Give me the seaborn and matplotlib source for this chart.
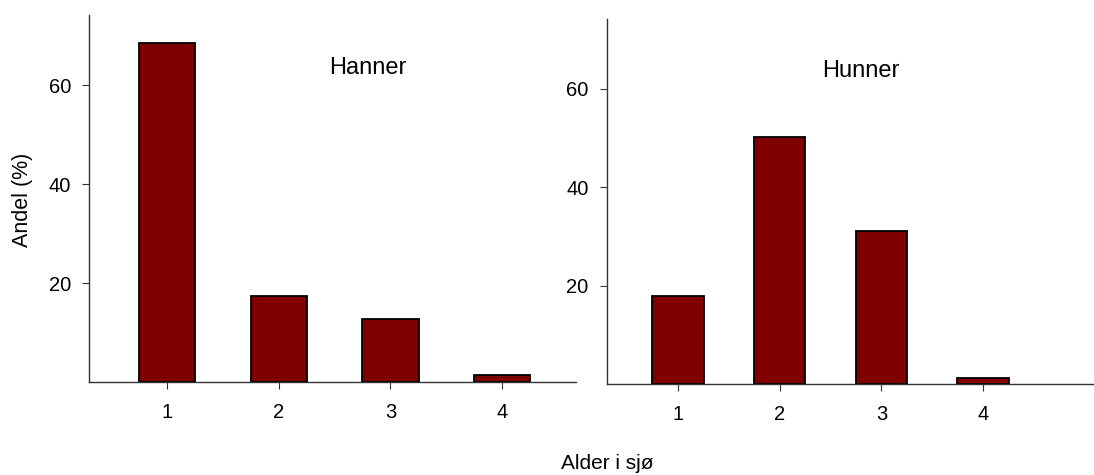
import matplotlib
matplotlib.use("Agg")
import matplotlib.pyplot as plt
import pandas as pd
import seaborn as sns

# data
ages = ["1", "2", "3", "4"]
hanner = [68.5, 17.3, 12.8, 1.3]
hunner = [17.9, 50.1, 31.0, 1.2]

sns.set_style("white")
plt.rcParams["font.family"] = ["Liberation Sans", "DejaVu Sans"]
plt.rcParams["text.color"] = "black"
plt.rcParams["xtick.color"] = "black"
plt.rcParams["ytick.color"] = "black"

fig = plt.figure(figsize=(10.94, 4.75), dpi=100)
ax1 = fig.add_axes([0.0814, 0.196, 0.4448, 0.772])
ax2 = fig.add_axes([0.5546, 0.191, 0.4454, 0.770])

panels = [(ax1, hanner, "Hanner", (-0.7, 3.66), 1.8),
          (ax2, hunner, "Hunner", (-0.7, 4.09), 1.8)]

for ax, vals, name, xl, tx in panels:
    df = pd.DataFrame({"alder": ages, "andel": vals})
    sns.barplot(data=df, x="alder", y="andel", order=ages, color="#800000",
                saturation=1, width=0.505, edgecolor="black", linewidth=1.3, ax=ax)
    ax.set_xlim(*xl)
    ax.set_ylim(0, 74.2)
    ax.set_yticks([20, 40, 60])
    ax.set_xlabel("")
    ax.set_ylabel("")
    sns.despine(ax=ax)
    for s in ["left", "bottom"]:
        ax.spines[s].set_color("#333333")
        ax.spines[s].set_linewidth(1.0)
    ax.tick_params(axis="both", which="both", direction="out", length=5,
                   width=0.8, color="#333333", labelsize=14.5,
                   bottom=True, left=True, labelcolor="black")
    ax.tick_params(axis="y", pad=8)
    ax.tick_params(axis="x", pad=10)
    ax.text(tx, 63.5, name, fontsize=17, ha="center", va="center")

fig.text(0.021, 0.579, "Andel (%)", rotation=90, fontsize=15.5, ha="center", va="center")
fig.text(0.555, 0.025, "Alder i sjø", fontsize=15, ha="center", va="center")

fig.savefig("out.png", dpi=100)
